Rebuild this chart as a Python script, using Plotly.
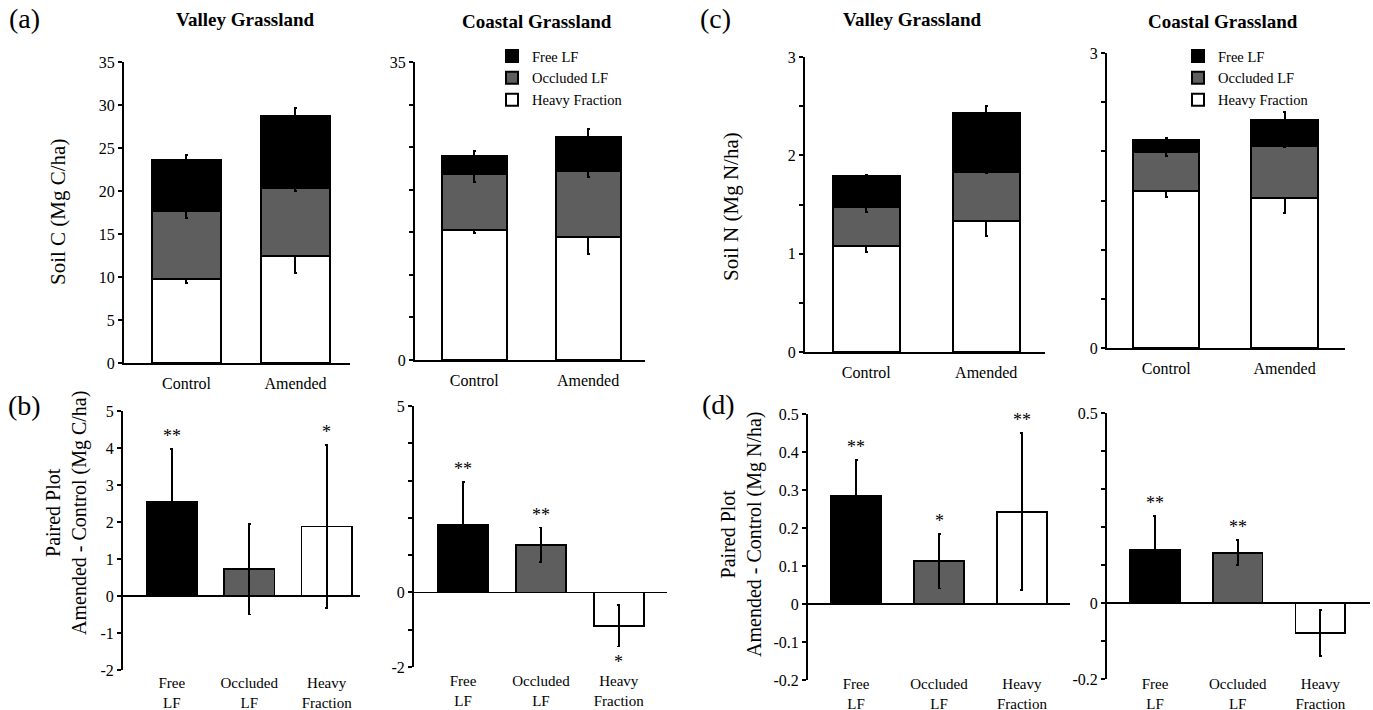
import plotly.graph_objects as go

W, H = 1373, 710

# ---------------- data ----------------
stack_categories = ["Control", "Amended"]
legend_names = ["Free LF", "Occluded LF", "Heavy Fraction"]
diff_categories = ["Free<br>LF", "Occluded<br>LF", "Heavy<br>Fraction"]

# (a) Soil C (Mg C/ha)
valley_c_heavy = [9.8, 12.5]
valley_c_heavy_err = [0.5, 2.0]
valley_c_occluded = [7.9, 7.9]
valley_c_occluded_err = [0.8, 0.4]
valley_c_free = [5.9, 8.3]
valley_c_free_err = [0.6, 1.0]

coastal_c_heavy = [15.3, 14.5]
coastal_c_heavy_err = [0.4, 2.0]
coastal_c_occluded = [6.5, 7.65]
coastal_c_occluded_err = [0.9, 0.6]
coastal_c_free = [2.15, 4.05]
coastal_c_free_err = [0.6, 0.95]

# (c) Soil N (Mg N/ha)
valley_n_heavy = [1.08, 1.33]
valley_n_heavy_err = [0.06, 0.15]
valley_n_occluded = [0.395, 0.50]
valley_n_occluded_err = [0.05, 0.01]
valley_n_free = [0.31, 0.60]
valley_n_free_err = [0.02, 0.075]

coastal_n_heavy = [1.60, 1.525]
coastal_n_heavy_err = [0.06, 0.15]
coastal_n_occluded = [0.39, 0.525]
coastal_n_occluded_err = [0.04, 0.01]
coastal_n_free = [0.13, 0.27]
coastal_n_free_err = [0.02, 0.075]

# (b) Paired plot difference, C
valley_c_diff = [2.55, 0.72, 1.88]
valley_c_diff_err = [1.42, 1.22, 2.2]
valley_c_sig = ["**", "", "*"]
coastal_c_diff = [1.80, 1.28, -0.89]
coastal_c_diff_err = [1.16, 0.46, 0.56]
coastal_c_sig = ["**", "**", "*"]

# (d) Paired plot difference, N
valley_n_diff = [0.284, 0.113, 0.243]
valley_n_diff_err = [0.095, 0.072, 0.207]
valley_n_sig = ["**", "*", "**"]
coastal_n_diff = [0.140, 0.132, -0.079]
coastal_n_diff_err = [0.088, 0.033, 0.061]
coastal_n_sig = ["**", "**", ""]

# ---------------- style ----------------
FONT = "Liberation Serif, Times New Roman, Times, DejaVu Serif, serif"
BLACK = "#000000"
GRAY = "#5e5e5e"
WHITE = "#ffffff"
fill_colors = [BLACK, GRAY, WHITE]


def dx(a, b):
    return [a / W, b / W]


def dy(top, bottom):
    return [1 - bottom / H, 1 - top / H]


fig = go.Figure()
layout = dict(
    template="none",
    width=W, height=H, autosize=False,
    margin=dict(l=0, r=0, t=0, b=0, pad=0, autoexpand=False),
    paper_bgcolor="white", plot_bgcolor="white",
    font=dict(family=FONT, color="black", size=16),
    barmode="stack",
    showlegend=True,
)

annotations = []


def yaxis_common(rng, tickvals, ticktext, dom, anchor, zero=False):
    return dict(
        domain=dom, range=rng, anchor=anchor, automargin=False,
        tickmode="array", tickvals=tickvals, ticktext=ticktext,
        showline=True, linecolor="black", linewidth=2,
        ticks="outside", ticklen=4, tickwidth=2, tickcolor="black",
        showgrid=False, zeroline=zero, zerolinecolor="black", zerolinewidth=1.5,
        tickfont=dict(family=FONT, size=16),
    )


# ---------- top stacked panels ----------
top_panels = [
    (1, (124, 350), (62, 363), [0, 35], [0, 5, 10, 15, 20, 25, 30, 35],
     ["0", "5", "10", "15", "20", "25", "30", "35"], [-0.573, 1.5], 0.63,
     (valley_c_heavy, valley_c_heavy_err, valley_c_occluded, valley_c_occluded_err,
      valley_c_free, valley_c_free_err), None),
    (2, (415, 645), (62, 360), [0, 35], [0, 5, 10, 15, 20, 25, 30, 35],
     ["0", "", "", "", "", "", "", "35"], [-0.52, 1.5], 0.57,
     (coastal_c_heavy, coastal_c_heavy_err, coastal_c_occluded, coastal_c_occluded_err,
      coastal_c_free, coastal_c_free_err), "legend"),
    (3, (805, 1045), (57, 352), [0, 3], [0, 0.5, 1, 1.5, 2, 2.5, 3],
     ["0", "", "1", "", "2", "", "3"], [-0.51, 1.49], 0.56,
     (valley_n_heavy, valley_n_heavy_err, valley_n_occluded, valley_n_occluded_err,
      valley_n_free, valley_n_free_err), None),
    (4, (1107, 1345), (53, 348), [0, 3], [0, 0.5, 1, 1.5, 2, 2.5, 3],
     ["0", "", "", "", "", "", "3"], [-0.50, 1.51], 0.56,
     (coastal_n_heavy, coastal_n_heavy_err, coastal_n_occluded, coastal_n_occluded_err,
      coastal_n_free, coastal_n_free_err), "legend2"),
]

for idx, xd, yd, yr, tv, tt, xr, bw, data, leg in top_panels:
    heavy, heavy_e, occ, occ_e, free, free_e = data
    xa, ya = f"x{idx}", f"y{idx}"
    series = [(legend_names[2], heavy, heavy_e, WHITE),
              (legend_names[1], occ, occ_e, GRAY),
              (legend_names[0], free, free_e, BLACK)]
    for name, vals, errs, col in series:
        fig.add_trace(go.Bar(
            x=stack_categories, y=vals, name=name, width=bw,
            marker=dict(color=col, line=dict(color="black", width=2)),
            error_y=dict(type="data", array=errs, visible=True, color="black",
                         thickness=2, width=1.5),
            xaxis=xa, yaxis=ya,
            showlegend=leg is not None,
            legend=leg if leg is not None else "legend",
        ))
    layout[f"xaxis{idx}"] = dict(
        domain=dx(*xd), anchor=ya, type="category", range=xr, automargin=False,
        showline=True, linecolor="black", linewidth=2, ticks="",
        showgrid=False, zeroline=False, ticklabelstandoff=5,
        tickfont=dict(family=FONT, size=16),
    )
    layout[f"yaxis{idx}"] = yaxis_common(yr, tv, tt, dy(*yd), xa)

# ---------- bottom difference panels ----------
bottom_panels = [
    (5, (123, 360), (411, 670), [-2, 5], [-2, -1, 0, 1, 2, 3, 4, 5],
     ["-2", "-1", "0", "1", "2", "3", "4", "5"], [-0.63, 2.43], 0.65,
     valley_c_diff, valley_c_diff_err, valley_c_sig, 2),
    (6, (414, 667), (406, 667), [-2, 5], [-2, -1, 0, 1, 2, 3, 4, 5],
     ["-2", "", "0", "", "", "", "", "5"], [-0.63, 2.62], 0.64,
     coastal_c_diff, coastal_c_diff_err, coastal_c_sig, 3),
    (7, (808, 1070), (414, 680), [-0.2, 0.5], [-0.2, -0.1, 0, 0.1, 0.2, 0.3, 0.4, 0.5],
     ["-0.2", "-0.1", "0", "0.1", "0.2", "0.3", "0.4", "0.5"], [-0.58, 2.58], 0.6,
     valley_n_diff, valley_n_diff_err, valley_n_sig, -7),
    (8, (1107, 1370), (413, 679), [-0.2, 0.5], [-0.2, -0.1, 0, 0.1, 0.2, 0.3, 0.4, 0.5],
     ["-0.2", "", "0", "", "", "", "", "0.5"], [-0.58, 2.6], 0.6,
     coastal_n_diff, coastal_n_diff_err, coastal_n_sig, -6),
]

for idx, xd, yd, yr, tv, tt, xr, bw, vals, errs, sig, standoff in bottom_panels:
    xa, ya = f"x{idx}", f"y{idx}"
    fig.add_trace(go.Bar(
        x=diff_categories, y=vals, width=bw,
        marker=dict(color=fill_colors, line=dict(color="black", width=1.8)),
        error_y=dict(type="data", array=errs, visible=True, color="black",
                     thickness=1.8, width=1.5),
        xaxis=xa, yaxis=ya, showlegend=False,
    ))
    layout[f"xaxis{idx}"] = dict(
        domain=dx(*xd), anchor=ya, type="category", range=xr, automargin=False,
        showline=False, ticks="", showgrid=False, zeroline=False,
        ticklabelstandoff=standoff, tickfont=dict(family=FONT, size=15),
    )
    layout[f"yaxis{idx}"] = yaxis_common(yr, tv, tt, dy(*yd), xa, zero=True)
    for cat, v, e, s in zip(diff_categories, vals, errs, sig):
        if not s:
            continue
        if v >= 0:
            annotations.append(dict(x=cat, y=v + e, xref=xa, yref=ya, text=s,
                                    showarrow=False, yanchor="bottom", yshift=1,
                                    font=dict(family=FONT, size=18)))
        else:
            annotations.append(dict(x=cat, y=v - e, xref=xa, yref=ya, text=s,
                                    showarrow=False, yanchor="top", yshift=-4,
                                    font=dict(family=FONT, size=18)))

# ---------- legends ----------
legend_style = dict(
    traceorder="reversed", bgcolor="rgba(0,0,0,0)", borderwidth=0,
    font=dict(family=FONT, size=14.5), tracegroupgap=0,
    xanchor="left", yanchor="top", itemclick=False,
)
layout["legend"] = dict(x=492 / W, y=1 - 40 / H, **legend_style)
layout["legend2"] = dict(x=1178 / W, y=1 - 40 / H, **legend_style)


# ---------- text annotations ----------
def paper_text(x, y, text, size, angle=0, weight="normal"):
    annotations.append(dict(x=x / W, y=1 - y / H, xref="paper", yref="paper",
                            text=text, showarrow=False, textangle=angle,
                            xanchor="center", yanchor="middle",
                            font=dict(family=FONT, size=size, weight=weight)))


paper_text(24, 19, "(a)", 28)
paper_text(24, 405, "(b)", 28)
paper_text(716, 19, "(c)", 28)
paper_text(718, 404, "(d)", 28)

paper_text(245, 20, "Valley Grassland", 19, weight="bold")
paper_text(537, 22, "Coastal Grassland", 19, weight="bold")
paper_text(912, 20, "Valley Grassland", 19, weight="bold")
paper_text(1223, 22, "Coastal Grassland", 19, weight="bold")

paper_text(58, 212, "Soil C (Mg C/ha)", 21, angle=-90)
paper_text(731, 207, "Soil N (Mg N/ha)", 21, angle=-90)
paper_text(66, 513, "Paired Plot<br>Amended - Control (Mg C/ha)", 20, angle=-90)
paper_text(741, 534, "Paired Plot<br>Amended - Control (Mg N/ha)", 20, angle=-90)

layout["annotations"] = annotations
fig.update_layout(**layout)
fig.write_html(
    "out.html",
    config={"displayModeBar": False, "staticPlot": True},
    post_script="document.body.style.margin='0px';document.body.style.overflow='hidden';",
)
